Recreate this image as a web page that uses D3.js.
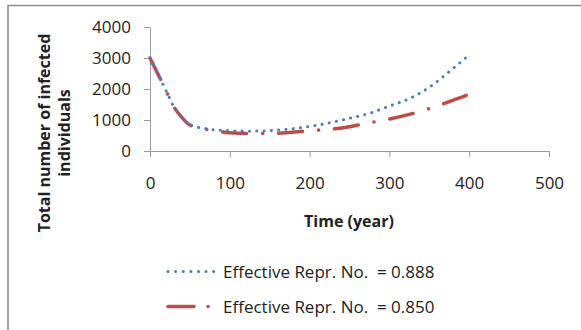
<!DOCTYPE html>
<html lang="en">
<head>
<meta charset="utf-8">
<title>Infected individuals</title>
<script src="https://d3js.org/d3.v7.min.js"></script>
<style>
  body { margin: 0; background: #fff; }
  text { font-family: "Open Sans", sans-serif; fill: #222; white-space: pre; }
</style>
</head>
<body>
<div id="chart"></div>
<script>
// data
const years = [0, 10, 20, 30, 40, 50, 75, 100, 125, 150, 175, 200, 225, 250, 275, 300, 325, 350, 375, 400];
const r888 = [3000, 2480, 1950, 1420, 1080, 850, 700, 655, 640, 655, 710, 790, 910, 1055, 1215, 1450, 1690, 2055, 2560, 3100];
const r850 = [3000, 2480, 1950, 1420, 1080, 840, 680, 590, 565, 565, 600, 655, 700, 785, 910, 1030, 1180, 1370, 1590, 1830];
const seriesNames = ["Effective Repr. No.  = 0.888", "Effective Repr. No.  = 0.850"];
const xTicks = [0, 100, 200, 300, 400, 500];
const yTicks = [0, 1000, 2000, 3000, 4000];

const W = 581, H = 330;
const svg = d3.select("#chart").append("svg")
  .attr("width", W).attr("height", H);

// chart frame (only top and left edges are visible)
svg.append("path")
  .attr("d", `M8,${H} L8,5.5 L${W},5.5`)
  .attr("fill", "none").attr("stroke", "#8c8c8c").attr("stroke-width", 1.5);

const x = d3.scaleLinear().domain([0, 500]).range([150, 549]);
const y = d3.scaleLinear().domain([0, 4000]).range([151, 27]);

// x axis
const gx = svg.append("g").attr("transform", "translate(0,151)")
  .call(d3.axisBottom(x).tickValues(xTicks).tickFormat(d3.format("d"))
    .tickSize(6).tickPadding(20).tickSizeOuter(0));
gx.select(".domain").attr("stroke", "#9a9a9a");
gx.selectAll(".tick line").attr("stroke", "#9a9a9a");
gx.selectAll("text").attr("font-size", 17).attr("font-family", "Open Sans").attr("fill", "#222");

// y axis
const gy = svg.append("g").attr("transform", "translate(150,0)")
  .call(d3.axisLeft(y).tickValues(yTicks).tickFormat(d3.format("d"))
    .tickSize(6).tickPadding(13).tickSizeOuter(0));
gy.select(".domain").attr("stroke", "#9a9a9a");
gy.selectAll(".tick line").attr("stroke", "#9a9a9a");
gy.selectAll("text").attr("font-size", 17).attr("font-family", "Open Sans").attr("fill", "#222");

// lines
const line = vals => d3.line()
  .x((d, i) => x(years[i]))
  .y(d => y(d))
  .curve(d3.curveMonotoneX)(vals);

svg.append("path").attr("d", line(r850))
  .attr("fill", "none").attr("stroke", "#be4b48").attr("stroke-width", 3.5)
  .attr("stroke-linecap", "round").attr("stroke-dasharray", "24 16 0.1 16");

svg.append("path").attr("d", line(r888))
  .attr("fill", "none").attr("stroke", "#4a7ebb").attr("stroke-width", 3)
  .attr("stroke-linecap", "round").attr("stroke-dasharray", "0.1 7.2");

// axis titles
svg.append("text").attr("x", 349).attr("y", 227)
  .attr("text-anchor", "middle").attr("font-weight", "bold").attr("font-size", 16)
  .text("Time (year)");

const yt = svg.append("text").attr("transform", "translate(45,133) rotate(-90)")
  .attr("text-anchor", "middle").attr("font-weight", "bold").attr("font-size", 16);
yt.append("tspan").attr("x", 0).attr("dy", 5).text("Total number of infected");
yt.append("tspan").attr("x", 0).attr("dy", 20).text("individuals");

// legend
const leg = svg.append("g");
leg.append("line").attr("x1", 168).attr("x2", 214).attr("y1", 271.5).attr("y2", 271.5)
  .attr("stroke", "#4a7ebb").attr("stroke-width", 3)
  .attr("stroke-linecap", "round").attr("stroke-dasharray", "0.1 7.5");
leg.append("line").attr("x1", 168).attr("x2", 209).attr("y1", 306.5).attr("y2", 306.5)
  .attr("stroke", "#be4b48").attr("stroke-width", 3.5)
  .attr("stroke-linecap", "round").attr("stroke-dasharray", "26 14 0.1 20");
leg.selectAll("text.lbl").data(seriesNames).join("text")
  .attr("class", "lbl")
  .attr("x", 223).attr("y", (d, i) => 277.5 + i * 35)
  .attr("font-size", 17)
  .text(d => d);
</script>
</body>
</html>
